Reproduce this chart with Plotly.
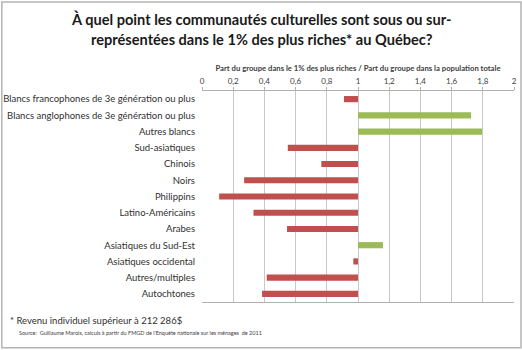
import plotly.graph_objects as go

categories = [
    "Blancs francophones de 3e génération ou plus",
    "Blancs anglophones de 3e génération ou plus",
    "Autres blancs",
    "Sud-asiatiques",
    "Chinois",
    "Noirs",
    "Philippins",
    "Latino-Américains",
    "Arabes",
    "Asiatiques du Sud-Est",
    "Asiatiques occidental",
    "Autres/multiples",
    "Autochtones",
]
ratios = [0.91, 1.725, 1.795, 0.55, 0.765, 0.27, 0.11, 0.33, 0.545, 1.16, 0.97, 0.415, 0.385]
x_ticks = [0, 0.2, 0.4, 0.6, 0.8, 1, 1.2, 1.4, 1.6, 1.8, 2]
x_tick_labels = ["0", "0,2", "0,4", "0,6", "0,8", "1", "1,2", "1,4", "1,6", "1,8", "2"]

title_lines = ["À quel point les communautés culturelles sont sous ou sur-",
               "représentées dans le 1% des plus riches* au Québec?"]
axis_title = "Part du groupe dans le 1% des plus riches / Part du groupe dans la population totale"
footnote = "* Revenu individuel supérieur à 212 286$"
source = "Source:  Guillaume Marois, calculs à partir du FMGD de l'Enquête nationale sur les ménages  de 2011"

RED = "#C0504D"
GREEN = "#9BBB59"
FONT = "Lato"

L, R, T, B = 201.5, 8, 90.5, 47.5
PW, PH = 522 - L - R, 350 - T - B


def px_x(px):
    return (px - L) / PW


def px_y(py):
    return 1 + (T - py) / PH


colors = [GREEN if r > 1 else RED for r in ratios]

fig = go.Figure()
fig.add_trace(go.Bar(
    y=categories,
    x=[r - 1 for r in ratios],
    base=[1] * len(ratios),
    orientation="h",
    marker=dict(color=colors, line=dict(width=0)),
    width=0.38,
    hoverinfo="skip",
))

annotations = [
    dict(text="<b>" + title_lines[0] + "</b>", xref="paper", yref="paper",
         x=px_x(261.5), xanchor="center", y=px_y(18.5), yanchor="middle",
         showarrow=False, font=dict(size=14.6, color="#1a1a1a")),
    dict(text="<b>" + title_lines[1] + "</b>", xref="paper", yref="paper",
         x=px_x(261.5), xanchor="center", y=px_y(39), yanchor="middle",
         showarrow=False, font=dict(size=14.6, color="#1a1a1a")),
    dict(text=footnote, xref="paper", yref="paper",
         x=px_x(7), xanchor="left", y=px_y(321.5), yanchor="middle",
         showarrow=False, font=dict(size=9.5, color="#303030")),
    dict(text=source, xref="paper", yref="paper",
         x=px_x(16.5), xanchor="left", y=px_y(334), yanchor="middle",
         showarrow=False, font=dict(size=5.5, color="#404040")),
]

fig.update_layout(
    width=522, height=350,
    margin=dict(l=L, r=R, t=T, b=B, autoexpand=False),
    paper_bgcolor="white", plot_bgcolor="white",
    showlegend=False,
    font=dict(family=FONT, color="#404040"),
    xaxis=dict(
        side="top", range=[0, 2], tickvals=x_ticks, ticktext=x_tick_labels,
        showgrid=True, gridcolor="#c8c8c8", gridwidth=1,
        showline=True, linecolor="#b0b0b0", linewidth=1, mirror=True,
        ticks="outside", ticklen=3, tickcolor="#b0b0b0",
        tickfont=dict(size=8, color="#404040"),
        zeroline=False, fixedrange=True,
        title=dict(text="<b>" + axis_title + "</b>", standoff=3,
                   font=dict(size=7.7, color="#404040")),
    ),
    yaxis=dict(
        autorange="reversed", type="category",
        showgrid=False, showline=False, ticks="", ticklabelstandoff=6,
        tickfont=dict(size=9.5, color="#303030"),
        fixedrange=True,
    ),
    yaxis2=dict(
        overlaying="y", anchor="free", position=0.5, side="left",
        range=[12.5, -0.5], showgrid=False, zeroline=False,
        showline=True, linecolor="#a0a0a0", linewidth=1,
        tickvals=[i + 0.5 for i in range(-1, 13)], ticks="outside",
        ticklen=3, tickcolor="#a0a0a0", showticklabels=False, fixedrange=True,
    ),
    shapes=[dict(type="rect", xref="paper", yref="paper",
                 x0=px_x(1), x1=px_x(521), y0=px_y(348.5), y1=px_y(1),
                 line=dict(color="#b4b4b4", width=1.5), layer="below")],
    annotations=annotations,
)

fig.write_html("out.html")
